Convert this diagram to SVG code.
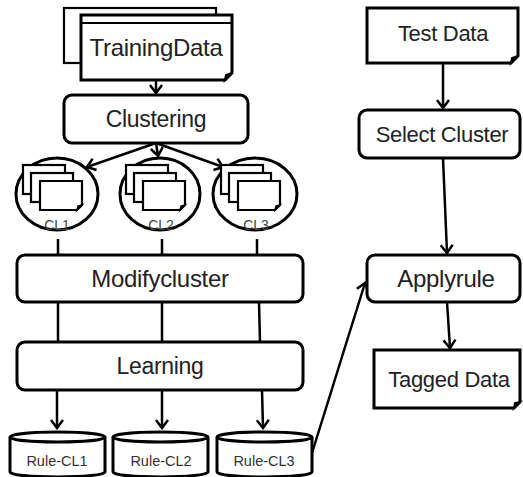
<svg xmlns="http://www.w3.org/2000/svg" width="523" height="477" viewBox="0 0 523 477">
<style>
.box{fill:#fff;stroke:#000;stroke-width:3}
.pg{fill:#fff;stroke:#000;stroke-width:2.2}
.ln{fill:none;stroke:#000;stroke-width:2.5}
.ar{fill:none;stroke:#000;stroke-width:2.5;marker-end:url(#ah)}
.t{font-family:"Liberation Sans",Arial,sans-serif;fill:#222;text-anchor:middle;letter-spacing:-0.3px}
.s{font-family:"Liberation Sans",Arial,sans-serif;fill:#333;text-anchor:middle;font-size:14.5px}
.c{font-family:"Liberation Sans",Arial,sans-serif;fill:#444;text-anchor:middle;font-size:14px}
</style>
<defs>
<marker id="ah" markerUnits="userSpaceOnUse" viewBox="-10 -8 12 16" refX="0" refY="0" markerWidth="12" markerHeight="16" orient="auto">
<path d="M-8,-6 L0,0 L-8,6" fill="none" stroke="#000" stroke-width="2.5"/>
</marker>
</defs>
<g id="connectors">
<line class="ar" x1="156" y1="80" x2="156" y2="93"/>
<line class="ar" x1="156" y1="143" x2="87" y2="167"/>
<line class="ar" x1="156" y1="143" x2="158" y2="156"/>
<line class="ar" x1="156" y1="143" x2="223" y2="167"/>
<line class="ln" x1="58" y1="239" x2="58" y2="255"/>
<line class="ln" x1="162" y1="239" x2="162" y2="255"/>
<line class="ln" x1="257" y1="239" x2="257" y2="255"/>
<line class="ln" x1="58" y1="302" x2="58" y2="342"/>
<line class="ln" x1="162" y1="302" x2="162" y2="342"/>
<line class="ln" x1="259" y1="302" x2="260" y2="342"/>
<line class="ar" x1="57" y1="390" x2="57" y2="428"/>
<line class="ar" x1="162" y1="390" x2="162" y2="428"/>
<line class="ar" x1="262" y1="390" x2="263" y2="428"/>
<line class="ar" x1="312" y1="453" x2="365" y2="283"/>
<line class="ar" x1="443" y1="63" x2="443" y2="108"/>
<line class="ar" x1="443" y1="158" x2="447" y2="253"/>
<line class="ar" x1="447" y1="302" x2="450" y2="348"/>
</g>
<g id="training-data">
<rect class="pg" x="64" y="8" width="152" height="55"/>
<path class="box" d="M81,15 H232 V73 L225,80 H81 Z"/>
<line x1="81" y1="23" x2="232" y2="23" stroke="#000" stroke-width="2"/>
<path d="M232,73 L225,80 L226,75 Z" fill="#000" stroke="#000" stroke-width="2"/>
<text class="t" x="156" y="56" font-size="24">TrainingData</text>
</g>
<g id="clustering">
<rect class="box" x="64" y="95" width="184" height="48" rx="8"/>
<text class="t" x="156" y="127" font-size="23">Clustering</text>
</g>
<g id="cl1">
<ellipse class="box" cx="57" cy="194" rx="41" ry="36" stroke-width="2.5"/>
<rect class="pg" x="23" y="165" width="42" height="29"/>
<rect class="pg" x="31" y="173" width="42" height="29"/>
<path class="pg" d="M40,181 H82 V205 L77,210 H40 Z"/>
<path d="M82,205 L77,210 L78,206 Z" fill="#000" stroke="#000" stroke-width="1.5"/>
<text class="c" x="57" y="230">CL1</text>
</g>
<g id="cl2">
<ellipse class="box" cx="160" cy="194" rx="40" ry="36" stroke-width="2.5"/>
<rect class="pg" x="126" y="165" width="42" height="29"/>
<rect class="pg" x="134" y="173" width="42" height="29"/>
<path class="pg" d="M143,181 H185 V205 L180,210 H143 Z"/>
<path d="M185,205 L180,210 L181,206 Z" fill="#000" stroke="#000" stroke-width="1.5"/>
<text class="c" x="161" y="230">CL2</text>
</g>
<g id="cl3">
<ellipse class="box" cx="255" cy="194" rx="42" ry="36" stroke-width="2.5"/>
<rect class="pg" x="221" y="165" width="42" height="29"/>
<rect class="pg" x="229" y="173" width="42" height="29"/>
<path class="pg" d="M238,181 H280 V205 L275,210 H238 Z"/>
<path d="M280,205 L275,210 L276,206 Z" fill="#000" stroke="#000" stroke-width="1.5"/>
<text class="c" x="256" y="230">CL3</text>
</g>
<g id="modify-cluster">
<rect class="box" x="17" y="255" width="286" height="47" rx="8"/>
<text class="t" x="160" y="287" font-size="24">Modifycluster</text>
</g>
<g id="learning">
<rect class="box" x="17" y="342" width="286" height="48" rx="8"/>
<text class="t" x="160" y="374" font-size="23">Learning</text>
</g>
<g id="rule-cl1">
<path class="box" d="M10,437 V472 A47.5,5 0 0 0 105,472 V437"/>
<ellipse class="box" cx="57.5" cy="437" rx="47.5" ry="5"/>
<text class="s" x="57" y="466">Rule-CL1</text>
</g>
<g id="rule-cl2">
<path class="box" d="M113,437 V472 A47.5,5 0 0 0 208,472 V437"/>
<ellipse class="box" cx="160.5" cy="437" rx="47.5" ry="5"/>
<text class="s" x="161" y="466">Rule-CL2</text>
</g>
<g id="rule-cl3">
<path class="box" d="M217,437 V472 A47.5,5 0 0 0 312,472 V437"/>
<ellipse class="box" cx="264.5" cy="437" rx="47.5" ry="5"/>
<text class="s" x="264" y="466">Rule-CL3</text>
</g>
<g id="test-data">
<path class="box" d="M367,8 H518 V56 L511,63 H367 Z"/>
<path d="M518,56 L511,63 L512,58 Z" fill="#000" stroke="#000" stroke-width="2"/>
<text class="t" x="443" y="41" font-size="22">Test Data</text>
</g>
<g id="select-cluster">
<rect class="box" x="359" y="110" width="161" height="48" rx="8"/>
<text class="t" x="442" y="142" font-size="22">Select Cluster</text>
</g>
<g id="apply-rule">
<rect class="box" x="367" y="255" width="153" height="47" rx="8"/>
<text class="t" x="446" y="287" font-size="24">Applyrule</text>
</g>
<g id="tagged-data">
<path class="box" d="M374,350 H520 V402 L514,408 H374 Z"/>
<path d="M520,402 L514,408 L515,403 Z" fill="#000" stroke="#000" stroke-width="2"/>
<text class="t" x="449" y="387" font-size="22">Tagged Data</text>
</g>
</svg>
